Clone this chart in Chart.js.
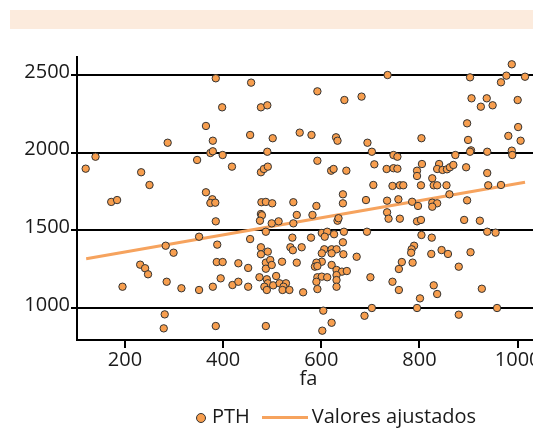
<!DOCTYPE html>
<html>
<head>
<meta charset="utf-8">
<title>PTH vs fa</title>
<script src="https://cdn.jsdelivr.net/npm/chart.js@4/dist/chart.umd.min.js"></script>
<style>
    html, body { margin: 0; padding: 0; background: #fff; overflow: hidden; width: 533px; height: 429px; }
    body { position: relative; font-family: 'Open Sans', sans-serif; color: #1a1a1a; }
    .banner { position: absolute; left: 10px; top: 10px; width: 540px; height: 19px; background: #fcebdd; }
    #chart { position: absolute; left: 0; top: 0; }
    .legend { position: absolute; left: 196px; top: 404px; display: flex; align-items: center; font-size: 20px; line-height: 24px; white-space: nowrap; }
    .legend .dot { width: 8px; height: 8px; border-radius: 50%; background: #f79e4e; border: 1px solid #333; margin-right: 6px; position: relative; top: 2px; }
    .legend .line { width: 46px; height: 3px; background: #f6a35e; margin: 0 4px 0 12px; position: relative; top: 1px; }
</style>
</head>
<body>
<div class="banner"></div>
<canvas id="chart" width="560" height="429"></canvas>
<div class="legend"><span class="dot"></span><span>PTH</span><span class="line"></span><span>Valores ajustados</span></div>
<script>
const fa = [
    385, 398, 365, 379, 287, 374, 379, 399, 347, 140,
    120, 233, 250, 365, 172, 184, 378, 374, 384, 385,
    351, 283, 299, 388, 387, 399, 231, 241, 247, 195,
    285, 315, 351, 379, 395, 281, 279, 385, 457, 592,
    647, 682, 477, 490, 455, 501, 556, 580, 630, 633,
    694, 703, 490, 418, 477, 483, 491, 592, 620, 625,
    651, 708, 706, 644, 644, 691, 478, 487, 500, 543,
    590, 477, 479, 550, 582, 475, 499, 513, 543, 633,
    635, 487, 455, 541, 579, 601, 612, 607, 626, 646,
    693, 644, 477, 477, 491, 537, 542, 560, 606, 601,
    621, 631, 621, 645, 672, 431, 451, 487, 496, 487,
    499, 520, 550, 601, 590, 587, 592, 621, 631, 642,
    652, 631, 631, 419, 431, 451, 474, 489, 491, 484,
    489, 502, 508, 515, 528, 523, 521, 535, 563, 592,
    601, 612, 590, 592, 631, 700, 604, 703, 688, 621,
    602, 487, 988, 735, 903, 977, 1015, 966, 906, 937,
    925, 949, 1000, 897, 1001, 899, 981, 1006, 804, 747,
    755, 873, 905, 903, 938, 988, 989, 733, 747, 755,
    805, 795, 795, 840, 836, 847, 856, 862, 869, 895,
    938, 826, 745, 760, 767, 803, 829, 836, 855, 940,
    966, 861, 734, 757, 785, 797, 826, 836, 826, 897,
    734, 737, 760, 795, 803, 891, 923, 938, 955, 804,
    825, 789, 784, 783, 845, 858, 824, 904, 764, 758,
    786, 880, 745, 758, 829, 836, 927, 801, 795, 958,
    880
];
const pth = [
    2479, 2292, 2172, 2077, 2064, 1998, 2009, 1985, 1953, 1974,
    1897, 1874, 1792, 1745, 1683, 1695, 1700, 1676, 1678, 1558,
    1459, 1401, 1356, 1408, 1296, 1296, 1279, 1256, 1217, 1137,
    1169, 1127, 1116, 1137, 1191, 959, 869, 884, 2451, 2395,
    2339, 2361, 2292, 2305, 2114, 2093, 2129, 2114, 2099, 2077,
    2064, 2006, 2006, 1910, 1874, 1895, 1910, 1948, 1884, 1895,
    1884, 1925, 1792, 1732, 1674, 1695, 1681, 1683, 1674, 1681,
    1657, 1605, 1597, 1599, 1599, 1562, 1545, 1558, 1545, 1562,
    1578, 1491, 1444, 1453, 1453, 1483, 1491, 1459, 1475, 1491,
    1491, 1423, 1391, 1346, 1363, 1391, 1372, 1391, 1378, 1352,
    1378, 1378, 1352, 1346, 1330, 1288, 1258, 1292, 1309, 1253,
    1277, 1298, 1292, 1298, 1292, 1266, 1270, 1277, 1245, 1234,
    1238, 1212, 1180, 1148, 1169, 1137, 1198, 1185, 1159, 1137,
    1116, 1146, 1206, 1159, 1159, 1137, 1116, 1116, 1101, 1198,
    1202, 1198, 1169, 1122, 1137, 1198, 983, 1000, 950, 905,
    854, 884, 2569, 2500, 2485, 2496, 2489, 2453, 2350, 2350,
    2296, 2305, 2339, 2189, 2165, 2082, 2108, 2077, 2093, 1985,
    1974, 1985, 2015, 2006, 2006, 2013, 1985, 1895, 1900, 1897,
    1927, 1884, 1850, 1927, 1895, 1889, 1893, 1906, 1921, 1906,
    1869, 1835, 1786, 1790, 1790, 1790, 1790, 1790, 1790, 1790,
    1792, 1732, 1691, 1700, 1684, 1657, 1678, 1674, 1652, 1693,
    1616, 1575, 1575, 1558, 1567, 1567, 1562, 1491, 1485, 1470,
    1453, 1401, 1378, 1356, 1373, 1348, 1348, 1359, 1296, 1251,
    1292, 1266, 1169, 1116, 1146, 1090, 1124, 1062, 1000, 1000,
    957
];

// fitted line (Valores ajustados), ends at min and max fa
const fitFa = [121, 1015];
const fitPth = [1317, 1809];

// axis ticks
const xTicks = [200, 400, 600, 800, 1000];
const yTicks = [1000, 1500, 2000, 2500];

const textColor = '#1a1a1a';
const axisFont = { family: "'Open Sans', sans-serif", size: 20 };

const ctx = document.getElementById('chart').getContext('2d');

new Chart(ctx, {
    type: 'scatter',
    data: {
        datasets: [
            {
                label: 'PTH',
                data: fa.map((x, i) => ({ x: x, y: pth[i] })),
                backgroundColor: '#f79e4e',
                borderColor: '#333',
                borderWidth: 1,
                pointRadius: 3.7
            },
            {
                label: 'Valores ajustados',
                data: fitFa.map((x, i) => ({ x: x, y: fitPth[i] })),
                showLine: true,
                borderColor: '#f6a35e',
                borderWidth: 3,
                pointRadius: 0,
                fill: false
            }
        ]
    },
    options: {
        responsive: false,
        animation: false,
        devicePixelRatio: 1,
        layout: {
            padding: { top: 57, right: 20, bottom: 38, left: 0 }
        },
        plugins: {
            legend: { display: false },
            tooltip: { enabled: false }
        },
        scales: {
            x: {
                type: 'linear',
                min: 102.3,
                max: 1045.5,
                afterBuildTicks: scale => { scale.ticks = xTicks.map(v => ({ value: v })); },
                afterFit: scale => { scale.height = 51; },
                grid: {
                    drawOnChartArea: false,
                    color: '#000',
                    lineWidth: 2,
                    tickLength: 8
                },
                border: { color: '#000', width: 2 },
                ticks: {
                    padding: 0,
                    color: textColor,
                    font: axisFont,
                    callback: value => String(value)
                },
                title: {
                    display: true,
                    text: 'fa',
                    color: textColor,
                    font: axisFont,
                    padding: 0
                }
            },
            y: {
                type: 'linear',
                min: 794,
                max: 2616,
                afterBuildTicks: scale => { scale.ticks = yTicks.map(v => ({ value: v })); },
                afterFit: scale => { scale.width = 77; },
                grid: {
                    color: '#000',
                    lineWidth: 2,
                    tickLength: 6
                },
                border: { color: '#000', width: 2 },
                ticks: {
                    padding: 1,
                    labelOffset: -3,
                    color: textColor,
                    font: axisFont,
                    callback: value => String(value)
                }
            }
        }
    }
});
</script>
</body>
</html>
